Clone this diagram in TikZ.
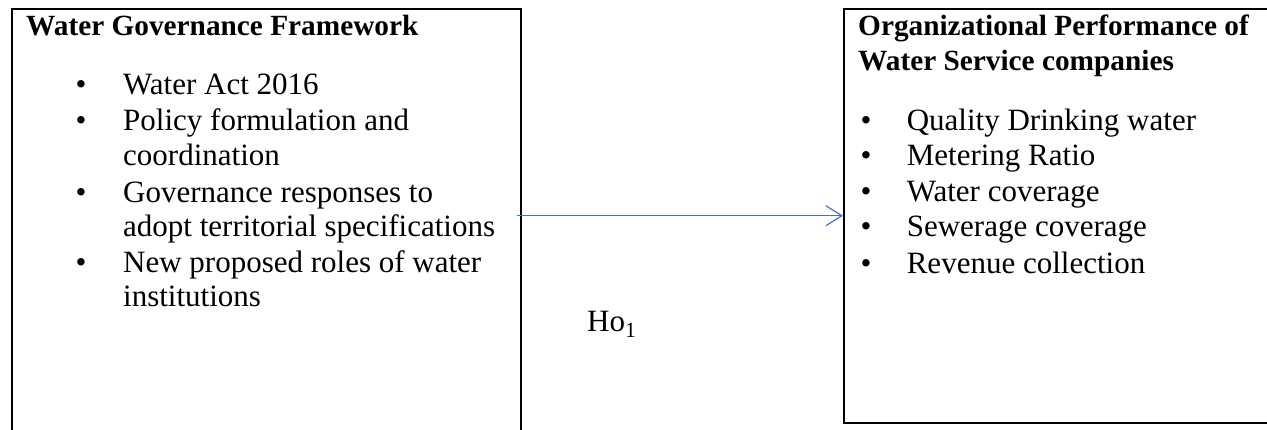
\documentclass[tikz,border=0pt]{standalone}
\usepackage{fontspec}
\setmainfont{Liberation Serif}
\usetikzlibrary{arrows.meta}
\definecolor{arrowblue}{HTML}{4472C4}
\tikzset{
  framebox/.style={draw=black, line width=2pt, rectangle, inner sep=0pt},
  txt/.style={anchor=base west, inner sep=0pt, font=\fontsize{31}{36}\selectfont},
  bul/.style={anchor=base, inner sep=0pt, font=\fontsize{31}{36}\selectfont},
  ttl/.style={anchor=base west, inner sep=0pt, font=\fontsize{29.3}{35}\selectfont\bfseries},
  link/.style={draw=arrowblue, line width=1.2pt, -{Straight Barb[length=16pt,width=20pt,line width=1.2pt]}}
}
\begin{document}
\begin{tikzpicture}[x=1pt,y=-1pt]
\useasboundingbox (0,0) rectangle (1267,430);
\clip (0,0) rectangle (1267,430);
% boxes
\node[framebox, minimum width=509pt, minimum height=436pt] (lbox) at (266.5,227) {};
\node[framebox, minimum width=441pt, minimum height=414pt] (rbox) at (1064.5,216) {};
% left texts
\node[ttl] (ltitle) at (26,35.5) {Water Governance Framework};
\node[bul] (lb1) at (81,95) {\textbullet};
\node[txt] (l1) at (123,95) {Water Act 2016};
\node[bul] (lb2) at (81,130.7) {\textbullet};
\node[txt] (l2) at (123,130.7) {Policy formulation and};
\node[txt] (l2b) at (123,165.7) {coordination};
\node[bul] (lb3) at (81,202.7) {\textbullet};
\node[txt] (l3) at (123,202.7) {Governance responses to};
\node[txt] (l3b) at (123,236.7) {adopt territorial specifications};
\node[bul] (lb4) at (81,272.7) {\textbullet};
\node[txt] (l4) at (123,272.7) {New proposed roles of water};
\node[txt] (l4b) at (123,307) {institutions};
% right texts
\node[ttl] (rtitle) at (858,35.7) {Organizational Performance of};
\node[ttl] (rtitle2) at (858,70.7) {Water Service companies};
\node[bul] (rb1) at (866,131) {\textbullet};
\node[txt] (r1) at (906.6,131) {Quality Drinking water};
\node[bul] (rb2) at (866,165.7) {\textbullet};
\node[txt] (r2) at (906.6,165.7) {Metering Ratio};
\node[bul] (rb3) at (866,202) {\textbullet};
\node[txt] (r3) at (906.6,202) {Water coverage};
\node[bul] (rb4) at (866,237) {\textbullet};
\node[txt] (r4) at (906.6,237) {Sewerage coverage};
\node[bul] (rb5) at (866,274) {\textbullet};
\node[txt] (r5) at (906.6,274) {Revenue collection};
% hypothesis label
\node[txt] (ho) at (587,332) {Ho\textsubscript{1}};
% arrow
\coordinate (astart) at (517,215.7);
\draw[link] (astart) -- (astart -| rbox.west);
\end{tikzpicture}
\end{document}
